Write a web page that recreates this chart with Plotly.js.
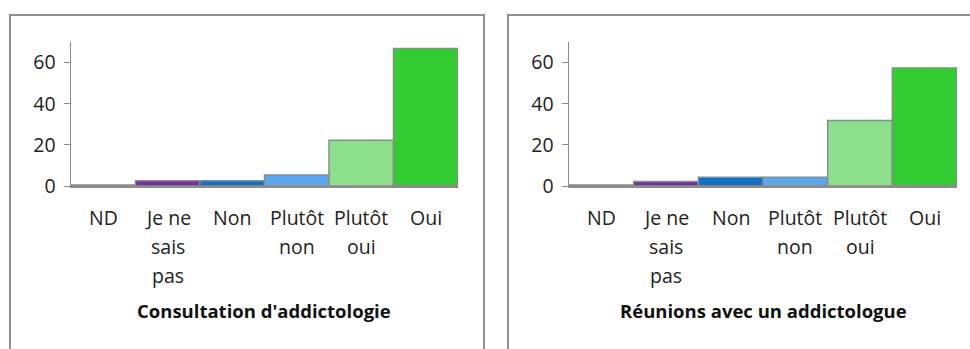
<!DOCTYPE html>
<html>
<head>
<meta charset="utf-8">
<script src="https://cdn.plot.ly/plotly-3.0.1.min.js"></script>
<style>html,body{margin:0;padding:0;background:#fff;}#chart{width:970px;height:349px;}</style>
</head>
<body>
<div id="chart"></div>
<script>
const categories = ["ND", "Je ne<br>sais<br>pas", "Non", "Plutôt<br>non", "Plutôt<br>oui", "Oui"];
const barColors = ["#ffffff", "#7030A0", "#1070C8", "#5BA8EE", "#8CE08C", "#33CC33"];
const consultationValues = [0.5, 2.6, 2.6, 5.4, 22.3, 66.8];
const reunionsValues = [0.5, 2.2, 4.3, 4.3, 31.8, 57.4];
const panelTitles = ["Consultation d'addictologie", "Réunions avec un addictologue"];
const yTicks = [0, 20, 40, 60];

const W = 970, H = 349;
const px = v => v / W;
const py = v => 1 - v / H;
const FONT = "Open Sans, Liberation Sans, sans-serif";

const panels = [
  {x0: 71, x1: 458, box: [10, 484], values: consultationValues, title: panelTitles[0], titleX: 264, xa: "x", ya: "y"},
  {x0: 569, x1: 957, box: [508, 1000], values: reunionsValues, title: panelTitles[1], titleX: 763, xa: "x2", ya: "y2"}
];

const idx = categories.map((_, i) => i);
const traces = panels.map(p => ({
  type: "bar", x: idx, y: p.values, xaxis: p.xa, yaxis: p.ya,
  marker: {color: barColors, line: {color: "#8c8c8c", width: 1.5}},
  hoverinfo: "skip", showlegend: false
}));

const annotations = [];
const shapes = [];
panels.forEach(p => {
  categories.forEach((c, i) => {
    c.split("<br>").forEach((line, j) => {
      annotations.push({
        xref: p.xa, yref: "paper", x: i, y: py(217 + j * 29),
        text: line, showarrow: false, xanchor: "center", yanchor: "middle",
        font: {family: FONT, size: 19.5, color: "#222"}
      });
    });
  });
  annotations.push({
    xref: "paper", yref: "paper", x: px(p.titleX), y: py(310), text: "<b>" + p.title + "</b>",
    showarrow: false, xanchor: "center", yanchor: "middle",
    font: {family: FONT, size: 18.5, color: "#111"}
  });
  shapes.push({type: "rect", xref: "paper", yref: "paper",
    x0: px(p.box[0]), x1: px(p.box[1]), y0: py(360), y1: py(15),
    line: {color: "#8f8f8f", width: 2}, fillcolor: "rgba(0,0,0,0)"});
});

const yaxisBase = {
  range: [0, 70], tickvals: yTicks, ticks: "outside", ticklen: 6, tickcolor: "#8c8c8c",
  showline: true, linecolor: "#8c8c8c", linewidth: 1.5, showgrid: false, zeroline: false,
  tickfont: {family: FONT, size: 19.5, color: "#222"}, domain: [py(186), py(42)], fixedrange: true,
  ticklabelstandoff: 4
};
const xaxisBase = {
  range: [-0.5, 5.5], showticklabels: false, ticks: "", showline: true, linecolor: "#8c8c8c",
  linewidth: 1.5, showgrid: false, zeroline: false, fixedrange: true
};

const layout = {
  width: W, height: H, margin: {l: 0, r: 0, t: 0, b: 0},
  paper_bgcolor: "#fff", plot_bgcolor: "rgba(0,0,0,0)",
  bargap: 0,
  xaxis: Object.assign({}, xaxisBase, {domain: [px(panels[0].x0), px(panels[0].x1)], anchor: "y"}),
  yaxis: Object.assign({}, yaxisBase, {anchor: "x"}),
  xaxis2: Object.assign({}, xaxisBase, {domain: [px(panels[1].x0), px(panels[1].x1)], anchor: "y2"}),
  yaxis2: Object.assign({}, yaxisBase, {anchor: "x2"}),
  annotations: annotations, shapes: shapes
};

Plotly.newPlot("chart", traces, layout, {displayModeBar: false, staticPlot: true});
</script>
</body>
</html>
